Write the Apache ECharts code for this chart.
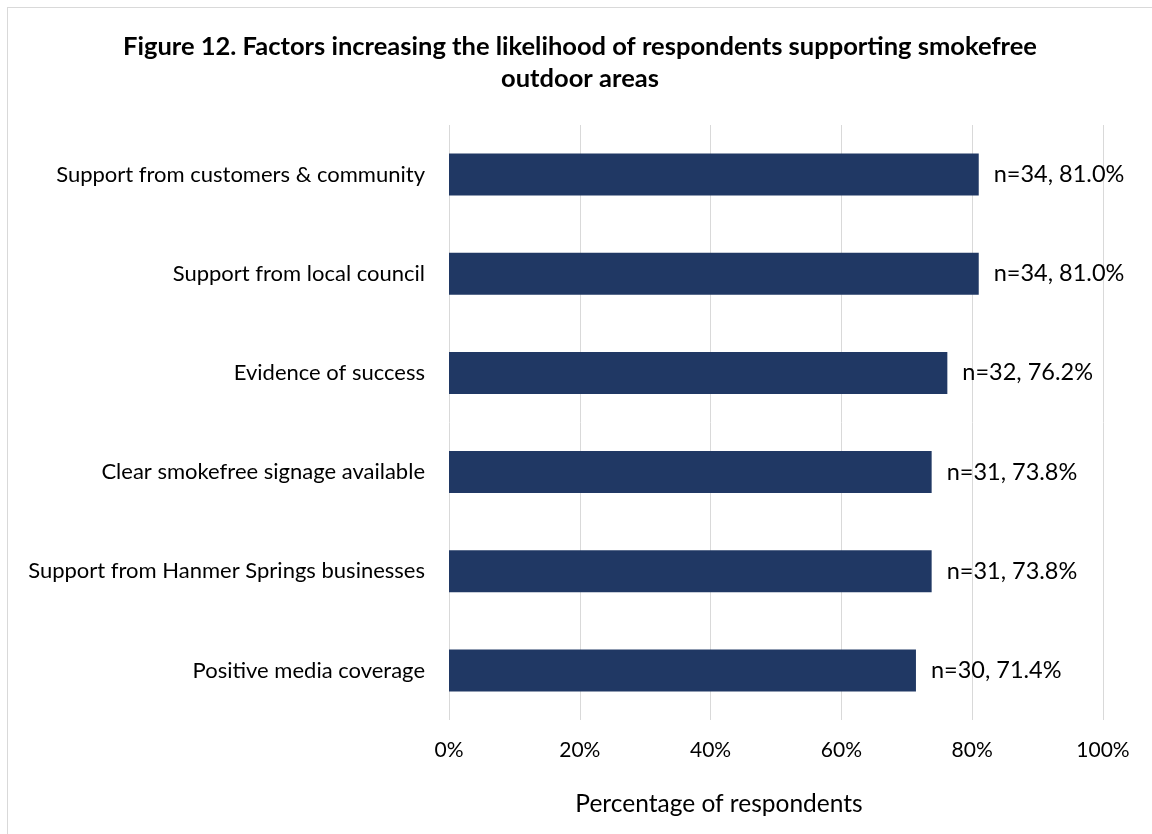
<!DOCTYPE html>
<html>
<head>
<meta charset="utf-8">
<script src="https://cdn.jsdelivr.net/npm/echarts@6/dist/echarts.min.js"></script>
<style>
  html, body { margin: 0; padding: 0; background: #fff; }
  #frame { position: absolute; left: 7px; top: 7px; width: 1160px; height: 840px; border: 1px solid #d9d9d9; box-sizing: border-box; }
  #chart { position: absolute; left: 0; top: 0; width: 1152px; height: 834px; }
</style>
</head>
<body>
<div id="frame"></div>
<div id="chart"></div>
<script>
// Factors, listed top to bottom
const factors = [
  'Support from customers & community',
  'Support from local council',
  'Evidence of success',
  'Clear smokefree signage available',
  'Support from Hanmer Springs businesses',
  'Positive media coverage'
];
const counts = [34, 34, 32, 31, 31, 30];
const percents = [81.0, 81.0, 76.2, 73.8, 73.8, 71.4];
const xTicks = [0, 20, 40, 60, 80, 100];

const FONT = 'Lato, "Open Sans", sans-serif';

const chart = echarts.init(document.getElementById('chart'), null, { renderer: 'canvas' });
chart.setOption({
  animation: false,
  title: [{
    text: 'Figure 12. Factors increasing the likelihood of respondents supporting smokefree\noutdoor areas',
    left: 575,
    top: 26,
    textAlign: 'center',
    textStyle: { fontFamily: FONT, fontSize: 25.5, fontWeight: 'bold', color: '#000', lineHeight: 32 }
  }, {
    text: 'Percentage of respondents',
    left: 714,
    top: 787,
    textAlign: 'center',
    textStyle: { fontFamily: FONT, fontSize: 24.5, fontWeight: 'normal', color: '#000' }
  }],
  grid: { left: 449, right: 49, top: 125, bottom: 114, containLabel: false },
  xAxis: {
    type: 'value',
    min: 0, max: 100, interval: 20,
    axisLine: { show: false },
    axisTick: { show: false },
    splitLine: { show: true, lineStyle: { color: '#d9d9d9', width: 1 } },
    axisLabel: { formatter: v => xTicks.includes(v) ? v + '%' : '', fontFamily: FONT, fontSize: 21, color: '#000', margin: 20 }
  },
  yAxis: {
    type: 'category',
    inverse: true,
    data: factors,
    axisLine: { show: false },
    axisTick: { show: false },
    axisLabel: { fontFamily: FONT, fontSize: 22, color: '#000', margin: 24 }
  },
  series: [{
    type: 'bar',
    data: percents,
    barWidth: 42,
    itemStyle: { color: '#203864' },
    label: {
      show: true,
      position: 'right',
      distance: 15,
      fontFamily: FONT, fontSize: 23.5, color: '#000',
      formatter: p => 'n=' + counts[p.dataIndex] + ', ' + percents[p.dataIndex].toFixed(1) + '%'
    }
  }]
});
</script>
</body>
</html>
